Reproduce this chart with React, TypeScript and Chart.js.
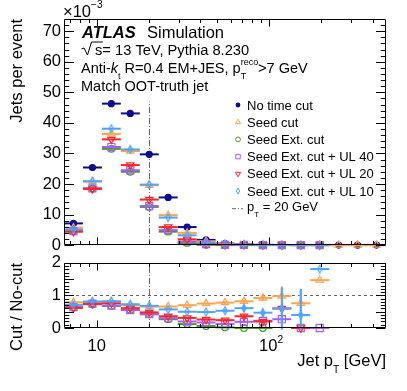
import React, { useEffect, useRef } from "react";
import { Chart, registerables } from "chart.js";
Chart.register(...registerables);

const FONT = '"Liberation Sans", Arial, Helvetica, sans-serif';

// ---- data ----
const binEdges = [6.46, 8.32, 10.72, 13.8, 17.78, 22.89, 29.49, 37.98, 48.91, 63.0, 81.1, 104.5, 134.6, 173.3, 223.2, 287.5, 370.3, 476.9];

// Jets per event (x 10^-3)
const noTimeCut = [7.1, 25.4, 46.3, 43.1, 29.7, 15.6, 5.9, 1.7, 0.5, 0.22, 0.1, 0.05, 0.03, 0.015, 0.008, 0.004, 0.002];
const seedCut = [5.7, 20.8, 36.4, 30.8, 19.6, 9.8, 4.0, 1.25, 0.39, 0.18, 0.09, 0.05, 0.023, 0.022, 0.005, 0.003, 0.001];
const seedExtCut = [4.5, 18.5, 31.5, 24.0, 12.5, 4.4, 0.7, 0.1, 0.01, 0, 0, 0, 0, 0, null, null, null];
const seedExtUL40 = [4.6, 18.6, 32.1, 24.5, 12.8, 4.9, 1.2, 0.3, 0.06, 0.04, 0.02, 0.015, 0, 0, null, null, null];
const seedExtUL20 = [4.4, 18.4, 34.6, 26.2, 14.9, 5.9, 1.9, 0.46, 0.12, 0.08, 0.02, 0.03, 0, 0, null, null, null];
const seedExtUL10 = [5.1, 20.9, 38.1, 31.3, 19.8, 9.0, 3.2, 0.85, 0.27, 0.13, 0.04, 0.03, 0.012, 0.027, null, null, null];

// Cut / No-cut ratios
const ratioSeedCut = [0.79, 0.81, 0.81, 0.7, 0.66, 0.66, 0.7, 0.75, 0.78, 0.82, 0.92, 0.98, 0.76, 1.47];
const ratioSeedCutErr = [0.02, 0.01, 0.01, 0.01, 0.01, 0.02, 0.02, 0.03, 0.04, 0.05, 0.08, 0.3, 0.45, 0];
const ratioSeedExtCut = [0.63, 0.73, 0.68, 0.56, 0.42, 0.27, 0.12, 0.06, 0.02, 0, 0, null, null, null];
const ratioSeedExtCutErr = [0.02, 0.01, 0.01, 0.01, 0.01, 0.01, 0.01, 0.01, 0.01, 0, 0, 0, 0, 0];
const ratioUL40 = [0.64, 0.75, 0.69, 0.55, 0.43, 0.3, 0.2, 0.17, 0.12, 0.19, 0.22, 0.27, 0, 0];
const ratioUL40Err = [0.02, 0.01, 0.01, 0.01, 0.01, 0.01, 0.01, 0.02, 0.02, 0.04, 0.06, 0.1, 0, 0];
const ratioUL20 = [0.62, 0.74, 0.76, 0.61, 0.48, 0.36, 0.31, 0.26, 0.24, 0.36, 0.2, 0.6, 0, null];
const ratioUL20Err = [0.02, 0.01, 0.01, 0.01, 0.01, 0.01, 0.02, 0.02, 0.03, 0.05, 0.06, 0.05, 0, 0];
const ratioUL10 = [0.71, 0.81, 0.82, 0.73, 0.68, 0.57, 0.5, 0.49, 0.53, 0.61, 0.47, 0.6, 0.4, 1.81];
const ratioUL10Err = [0.02, 0.01, 0.01, 0.01, 0.01, 0.02, 0.02, 0.03, 0.05, 0.1, 0.12, 0.65, 0.8, 0];

const topYTicks = [0, 10, 20, 30, 40, 50, 60, 70];
const ratioYTicks = [0, 0.5, 1, 1.5, 2];
const xMajorTicks = [10, 100];
const xMinorTicks = [7, 8, 9, 20, 30, 40, 50, 60, 70, 80, 90, 200, 300, 400];
const ptCut = 20;
const ptCutLineTop = 47;
const topYMax = 74;

const legendLabels = ["No time cut", "Seed cut", "Seed Ext. cut", "Seed Ext. cut + UL 40", "Seed Ext. cut + UL 20", "Seed Ext. cut + UL 10"];

// ---- styles ----
const NAVY = "#0c0c8c";
const ORANGE = "#ffa44c";
const GREEN = "#449c22";
const PURPLE = "#a65cff";
const RED = "#ff2424";
const AZURE = "#4ca4ff";

type Sty = { color: string; shape: string; filled: boolean; radius: number; order: number };
const styles: Sty[] = [
  { color: NAVY, shape: "circle", filled: true, radius: 3, order: 6 },
  { color: ORANGE, shape: "triangle", filled: false, radius: 4.2, order: 5 },
  { color: GREEN, shape: "circle", filled: false, radius: 3.3, order: 4 },
  { color: PURPLE, shape: "rect", filled: false, radius: 5, order: 3 },
  { color: RED, shape: "triangleDown", filled: false, radius: 4.2, order: 2 },
  { color: AZURE, shape: "diamond", filled: false, radius: 4, order: 1 },
];

function fnt(size: number, it = false, b = false) {
  return `${it ? "italic " : ""}${b ? "bold " : ""}${size}px ${FONT}`;
}

type Seg = { t?: string; it?: boolean; b?: boolean; sub?: string; sup?: string; size?: number };

function drawRich(ctx: CanvasRenderingContext2D, segs: Seg[], x: number, y: number, size: number, align: "left" | "right" | "center" = "left") {
  const ss = size * 0.62;
  const widths = segs.map((s) => {
    if (s.sub !== undefined || s.sup !== undefined) {
      ctx.font = fnt(ss);
      return Math.max(s.sub ? ctx.measureText(s.sub).width : 0, s.sup ? ctx.measureText(s.sup).width : 0);
    }
    ctx.font = fnt(s.size ?? size, s.it, s.b);
    return ctx.measureText(s.t || "").width;
  });
  const total = widths.reduce((a, b) => a + b, 0);
  let cx = align === "left" ? x : align === "right" ? x - total : x - total / 2;
  ctx.textAlign = "left";
  ctx.textBaseline = "alphabetic";
  ctx.fillStyle = "#000";
  segs.forEach((s, i) => {
    if (s.sub !== undefined || s.sup !== undefined) {
      ctx.font = fnt(ss);
      if (s.sub) ctx.fillText(s.sub, cx, y + size * 0.45);
      if (s.sup) ctx.fillText(s.sup, cx, y - size * 0.5);
    } else {
      ctx.font = fnt(s.size ?? size, s.it, s.b);
      ctx.fillText(s.t || "", cx, y);
    }
    cx += widths[i];
  });
  return total;
}

function markerPath(ctx: CanvasRenderingContext2D, shape: string, x: number, y: number, r: number) {
  ctx.beginPath();
  if (shape === "circle") ctx.arc(x, y, r, 0, Math.PI * 2);
  else if (shape === "triangle") {
    ctx.moveTo(x, y - r);
    ctx.lineTo(x + r * 0.866, y + r * 0.5);
    ctx.lineTo(x - r * 0.866, y + r * 0.5);
    ctx.closePath();
  } else if (shape === "triangleDown") {
    ctx.moveTo(x, y + r);
    ctx.lineTo(x + r * 0.866, y - r * 0.5);
    ctx.lineTo(x - r * 0.866, y - r * 0.5);
    ctx.closePath();
  } else if (shape === "rect") {
    ctx.rect(x - r * 0.7, y - r * 0.7, r * 1.4, r * 1.4);
  } else if (shape === "diamond") {
    ctx.moveTo(x, y - r);
    ctx.lineTo(x + r * 0.55, y);
    ctx.lineTo(x, y + r);
    ctx.lineTo(x - r * 0.55, y);
    ctx.closePath();
  }
}

function diamondImage(color: string, r: number) {
  const c = document.createElement("canvas");
  c.width = Math.ceil(r * 1.2 + 3);
  c.height = Math.ceil(r * 2 + 3);
  const g = c.getContext("2d")!;
  g.strokeStyle = color;
  g.lineWidth = 1.2;
  markerPath(g, "diamond", c.width / 2, c.height / 2, r);
  g.stroke();
  return c;
}

function points(vals: (number | null)[], errs?: number[]) {
  const out: any[] = [];
  vals.forEach((v, i) => {
    if (v === null || v === undefined) return;
    const lo = binEdges[i];
    const hi = binEdges[i + 1];
    out.push({ x: Math.sqrt(lo * hi), y: v, lo, hi, err: errs ? errs[i] : 0 });
  });
  return out;
}

function makeDataset(label: string, st: Sty, data: any[]) {
  const ps: any =
    st.shape === "diamond" ? diamondImage(st.color, st.radius) : st.shape === "triangleDown" ? "triangle" : st.shape;
  return {
    label,
    data,
    showLine: false,
    order: st.order,
    clip: false as any,
    pointStyle: ps,
    pointRotation: st.shape === "triangleDown" ? 180 : 0,
    pointRadius: st.radius,
    pointHoverRadius: st.radius,
    pointBorderWidth: 1.2,
    pointBorderColor: st.color,
    pointBackgroundColor: st.filled ? st.color : "rgba(0,0,0,0)",
    borderColor: st.color,
    backgroundColor: st.color,
  };
}

const errorBarPlugin = {
  id: "errorBars",
  beforeDatasetDraw(chart: any, args: any) {
    const ds = chart.data.datasets[args.index];
    const { ctx, chartArea: a, scales } = chart;
    const xs = scales.x;
    const ys = scales.y;
    ctx.save();
    ctx.beginPath();
    ctx.rect(a.left, a.top - 2, a.right - a.left, a.bottom - a.top + 4);
    ctx.clip();
    ctx.strokeStyle = ds.borderColor;
    ctx.lineWidth = 2;
    ds.data.forEach((p: any) => {
      const x0 = xs.getPixelForValue(p.lo);
      const x1 = xs.getPixelForValue(p.hi);
      const yy = ys.getPixelForValue(p.y);
      ctx.beginPath();
      ctx.moveTo(x0, yy);
      ctx.lineTo(x1, yy);
      ctx.stroke();
      if (p.err > 0) {
        const xc = xs.getPixelForValue(p.x);
        ctx.beginPath();
        ctx.moveTo(xc, ys.getPixelForValue(p.y - p.err));
        ctx.lineTo(xc, ys.getPixelForValue(p.y + p.err));
        ctx.stroke();
      }
    });
    ctx.restore();
  },
};

function drawFrame(chart: any, yMajor: number[], yMinor: number[], xLen: number, yLen: number) {
  const { ctx, chartArea: a, scales } = chart;
  const xs = scales.x;
  const ys = scales.y;
  const L = Math.round(a.left) + 0.5;
  const R = Math.round(a.right) - 0.5;
  const T = Math.round(a.top) + 0.5;
  const B = Math.round(a.bottom) - 0.5;
  ctx.save();
  ctx.strokeStyle = "#000";
  ctx.lineWidth = 1;
  ctx.setLineDash([]);
  ctx.beginPath();
  ctx.rect(L, T, R - L, B - T);
  const xt = (v: number, len: number) => {
    const px = Math.round(xs.getPixelForValue(v)) + 0.5;
    ctx.moveTo(px, B);
    ctx.lineTo(px, B - len);
    ctx.moveTo(px, T);
    ctx.lineTo(px, T + len);
  };
  const yt = (v: number, len: number) => {
    const py = Math.round(ys.getPixelForValue(v)) + 0.5;
    ctx.moveTo(L, py);
    ctx.lineTo(L + len, py);
    ctx.moveTo(R, py);
    ctx.lineTo(R - len, py);
  };
  xMajorTicks.forEach((v) => xt(v, xLen));
  xMinorTicks.forEach((v) => xt(v, xLen / 2));
  yMajor.forEach((v) => yt(v, yLen));
  yMinor.forEach((v) => yt(v, yLen / 2));
  ctx.stroke();
  ctx.restore();
}

function yAxisOpts(min: number, max: number, ticks: number[]) {
  return {
    type: "linear" as const,
    min,
    max,
    afterFit: (s: any) => {
      s.width = 64;
    },
    afterBuildTicks: (s: any) => {
      s.ticks = ticks.map((v) => ({ value: v }));
    },
    grid: { display: false, drawTicks: false },
    border: { display: false },
    ticks: {
      padding: 3,
      color: "#000",
      font: { family: FONT, size: 16.5 },
      callback: (v: any) => String(v),
    },
  };
}

const xAxisOpts = {
  type: "logarithmic" as const,
  min: binEdges[0],
  max: binEdges[binEdges.length - 1],
  display: false,
};

function topConfig(): any {
  const tops = [noTimeCut, seedCut, seedExtCut, seedExtUL40, seedExtUL20, seedExtUL10];
  const datasets = tops.map((vals, i) => makeDataset(legendLabels[i], styles[i], points(vals)));
  const minor: number[] = [];
  for (let v = 2; v < topYMax; v += 2) if (v % 10 !== 0) minor.push(v);
  return {
    type: "scatter",
    data: { datasets },
    options: {
      animation: false,
      responsive: false,
      maintainAspectRatio: false,
      layout: { padding: { left: 0, right: 21, top: 19, bottom: 12 } },
      plugins: { legend: { display: false }, tooltip: { enabled: false } },
      scales: { x: xAxisOpts, y: yAxisOpts(0, topYMax, topYTicks) },
    },
    plugins: [
      errorBarPlugin,
      {
        id: "topDecor",
        beforeDatasetsDraw(chart: any) {
          const { ctx, scales } = chart;
          const px = scales.x.getPixelForValue(ptCut);
          ctx.save();
          ctx.strokeStyle = "#666";
          ctx.lineWidth = 1;
          ctx.setLineDash([6, 2, 1, 2]);
          ctx.beginPath();
          ctx.moveTo(Math.round(px) + 0.5, scales.y.getPixelForValue(0));
          ctx.lineTo(Math.round(px) + 0.5, scales.y.getPixelForValue(ptCutLineTop));
          ctx.stroke();
          ctx.restore();
        },
        afterDraw(chart: any) {
          const { ctx, chartArea: a } = chart;
          drawFrame(chart, topYTicks, minor, 7, 9.5);
          ctx.save();
          // exponent
          drawRich(ctx, [{ t: "\u00d710" }, { sup: "\u22123" }], 63, 16.5, 16.5);
          // y title
          ctx.save();
          ctx.translate(22, a.top);
          ctx.rotate(-Math.PI / 2);
          drawRich(ctx, [{ t: "Jets per event" }], 0, 0, 16.5, "right");
          ctx.restore();
          // ATLAS label
          drawRich(ctx, [{ t: "ATLAS", it: true, b: true }], 82, 37.5, 16.5);
          drawRich(ctx, [{ t: "Simulation" }], 147, 37.5, 16.5);
          // sqrt(s) line: radical sign drawn as a path, rest as text
          const b2 = 54.5;
          const sx = 95;
          ctx.font = fnt(14.7);
          const sw = ctx.measureText("s").width;
          ctx.save();
          ctx.strokeStyle = "#000";
          ctx.lineWidth = 1;
          ctx.beginPath();
          ctx.moveTo(81.5, b2 - 5.5);
          ctx.lineTo(84, b2 - 6.5);
          ctx.lineTo(87.5, b2 + 0.5);
          ctx.lineTo(91.5, b2 - 12.5);
          ctx.lineTo(sx + sw + 0.5, b2 - 12.5);
          ctx.stroke();
          ctx.restore();
          drawRich(ctx, [{ t: "s= 13 TeV, Pythia 8.230" }], sx, b2, 14.7);
          drawRich(
            ctx,
            [{ t: "Anti-" }, { t: "k", it: true }, { sub: "t" }, { t: " R=0.4 EM+JES, p" }, { sub: "T", sup: "reco" }, { t: ">7 GeV" }],
            81,
            72.5,
            14.5
          );
          drawRich(ctx, [{ t: "Match OOT-truth jet" }], 81, 90.5, 14.5);
          // legend
          const lx = 238;
          legendLabels.forEach((lab, i) => {
            const cy = 105 + i * 17.2;
            const st = styles[i];
            ctx.save();
            ctx.strokeStyle = st.color;
            ctx.fillStyle = st.color;
            ctx.lineWidth = 1;
            markerPath(ctx, st.shape, lx, cy, st.shape === "rect" ? 3.2 : st.shape === "circle" ? 2.4 : 3);
            if (st.filled) ctx.fill();
            else ctx.stroke();
            ctx.restore();
            drawRich(ctx, [{ t: lab }], 247, cy + 4.6, 13);
          });
          const cy = 105 + 6 * 17.2;
          ctx.save();
          ctx.strokeStyle = "#666";
          ctx.lineWidth = 1;
          ctx.setLineDash([4, 2, 1, 2]);
          ctx.beginPath();
          ctx.moveTo(232, cy + 0.5);
          ctx.lineTo(243, cy + 0.5);
          ctx.stroke();
          ctx.restore();
          drawRich(ctx, [{ t: "p" }, { sub: "T" }, { t: " = 20 GeV" }], 247, cy + 2.6, 13);
          ctx.restore();
        },
      },
    ],
  };
}

function bottomConfig(): any {
  const ratios = [
    [ratioSeedCut, ratioSeedCutErr],
    [ratioSeedExtCut, ratioSeedExtCutErr],
    [ratioUL40, ratioUL40Err],
    [ratioUL20, ratioUL20Err],
    [ratioUL10, ratioUL10Err],
  ] as [(number | null)[], number[]][];
  const datasets = ratios.map(([v, e], i) => makeDataset(legendLabels[i + 1], styles[i + 1], points(v, e)));
  const minor: number[] = [];
  for (let k = 1; k < 20; k++) if (k % 5 !== 0) minor.push(k / 10);
  return {
    type: "scatter",
    data: { datasets },
    options: {
      animation: false,
      responsive: false,
      maintainAspectRatio: false,
      layout: { padding: { left: 0, right: 21, top: 12, bottom: 63 } },
      plugins: { legend: { display: false }, tooltip: { enabled: false } },
      scales: { x: xAxisOpts, y: yAxisOpts(0, 2, ratioYTicks) },
    },
    plugins: [
      errorBarPlugin,
      {
        id: "botDecor",
        beforeDatasetsDraw(chart: any) {
          const { ctx, scales, chartArea: a } = chart;
          ctx.save();
          ctx.lineWidth = 1;
          ctx.strokeStyle = "#666";
          ctx.setLineDash([3, 3]);
          const py = Math.round(scales.y.getPixelForValue(1)) + 0.5;
          ctx.beginPath();
          ctx.moveTo(a.left, py);
          ctx.lineTo(a.right, py);
          ctx.stroke();
          ctx.setLineDash([6, 2, 1, 2]);
          const px = Math.round(scales.x.getPixelForValue(ptCut)) + 0.5;
          ctx.beginPath();
          ctx.moveTo(px, a.bottom);
          ctx.lineTo(px, a.top);
          ctx.stroke();
          ctx.restore();
        },
        afterDraw(chart: any) {
          const { ctx, chartArea: a, scales } = chart;
          drawFrame(chart, ratioYTicks, minor, 7, 9.5);
          ctx.save();
          ctx.translate(22, a.top);
          ctx.rotate(-Math.PI / 2);
          drawRich(ctx, [{ t: "Cut / No-cut" }], 0, 0, 16.5, "right");
          ctx.restore();
          const base = a.bottom + 23;
          drawRich(ctx, [{ t: "10" }], scales.x.getPixelForValue(xMajorTicks[0]), base, 16.5, "center");
          drawRich(ctx, [{ t: "10" }, { sup: "2" }], scales.x.getPixelForValue(xMajorTicks[1]) + 2, base, 16.5, "center");
          drawRich(ctx, [{ t: "Jet p" }, { sub: "T" }, { t: " [GeV]" }], a.right, a.bottom + 38, 16.5, "right");
        },
      },
    ],
  };
}

export default function App() {
  const topRef = useRef<HTMLCanvasElement>(null);
  const botRef = useRef<HTMLCanvasElement>(null);
  useEffect(() => {
    const c1 = new Chart(topRef.current!, topConfig());
    const c2 = new Chart(botRef.current!, bottomConfig());
    return () => {
      c1.destroy();
      c2.destroy();
    };
  }, []);
  return (
    <div style={{ position: "absolute", left: 0, top: 0, width: 407, height: 391, background: "#fff" }}>
      <canvas ref={topRef} width={407} height={258} style={{ position: "absolute", left: 0, top: 0, width: 407, height: 258 }} />
      <canvas ref={botRef} width={407} height={141} style={{ position: "absolute", left: 0, top: 250, width: 407, height: 141 }} />
    </div>
  );
}
